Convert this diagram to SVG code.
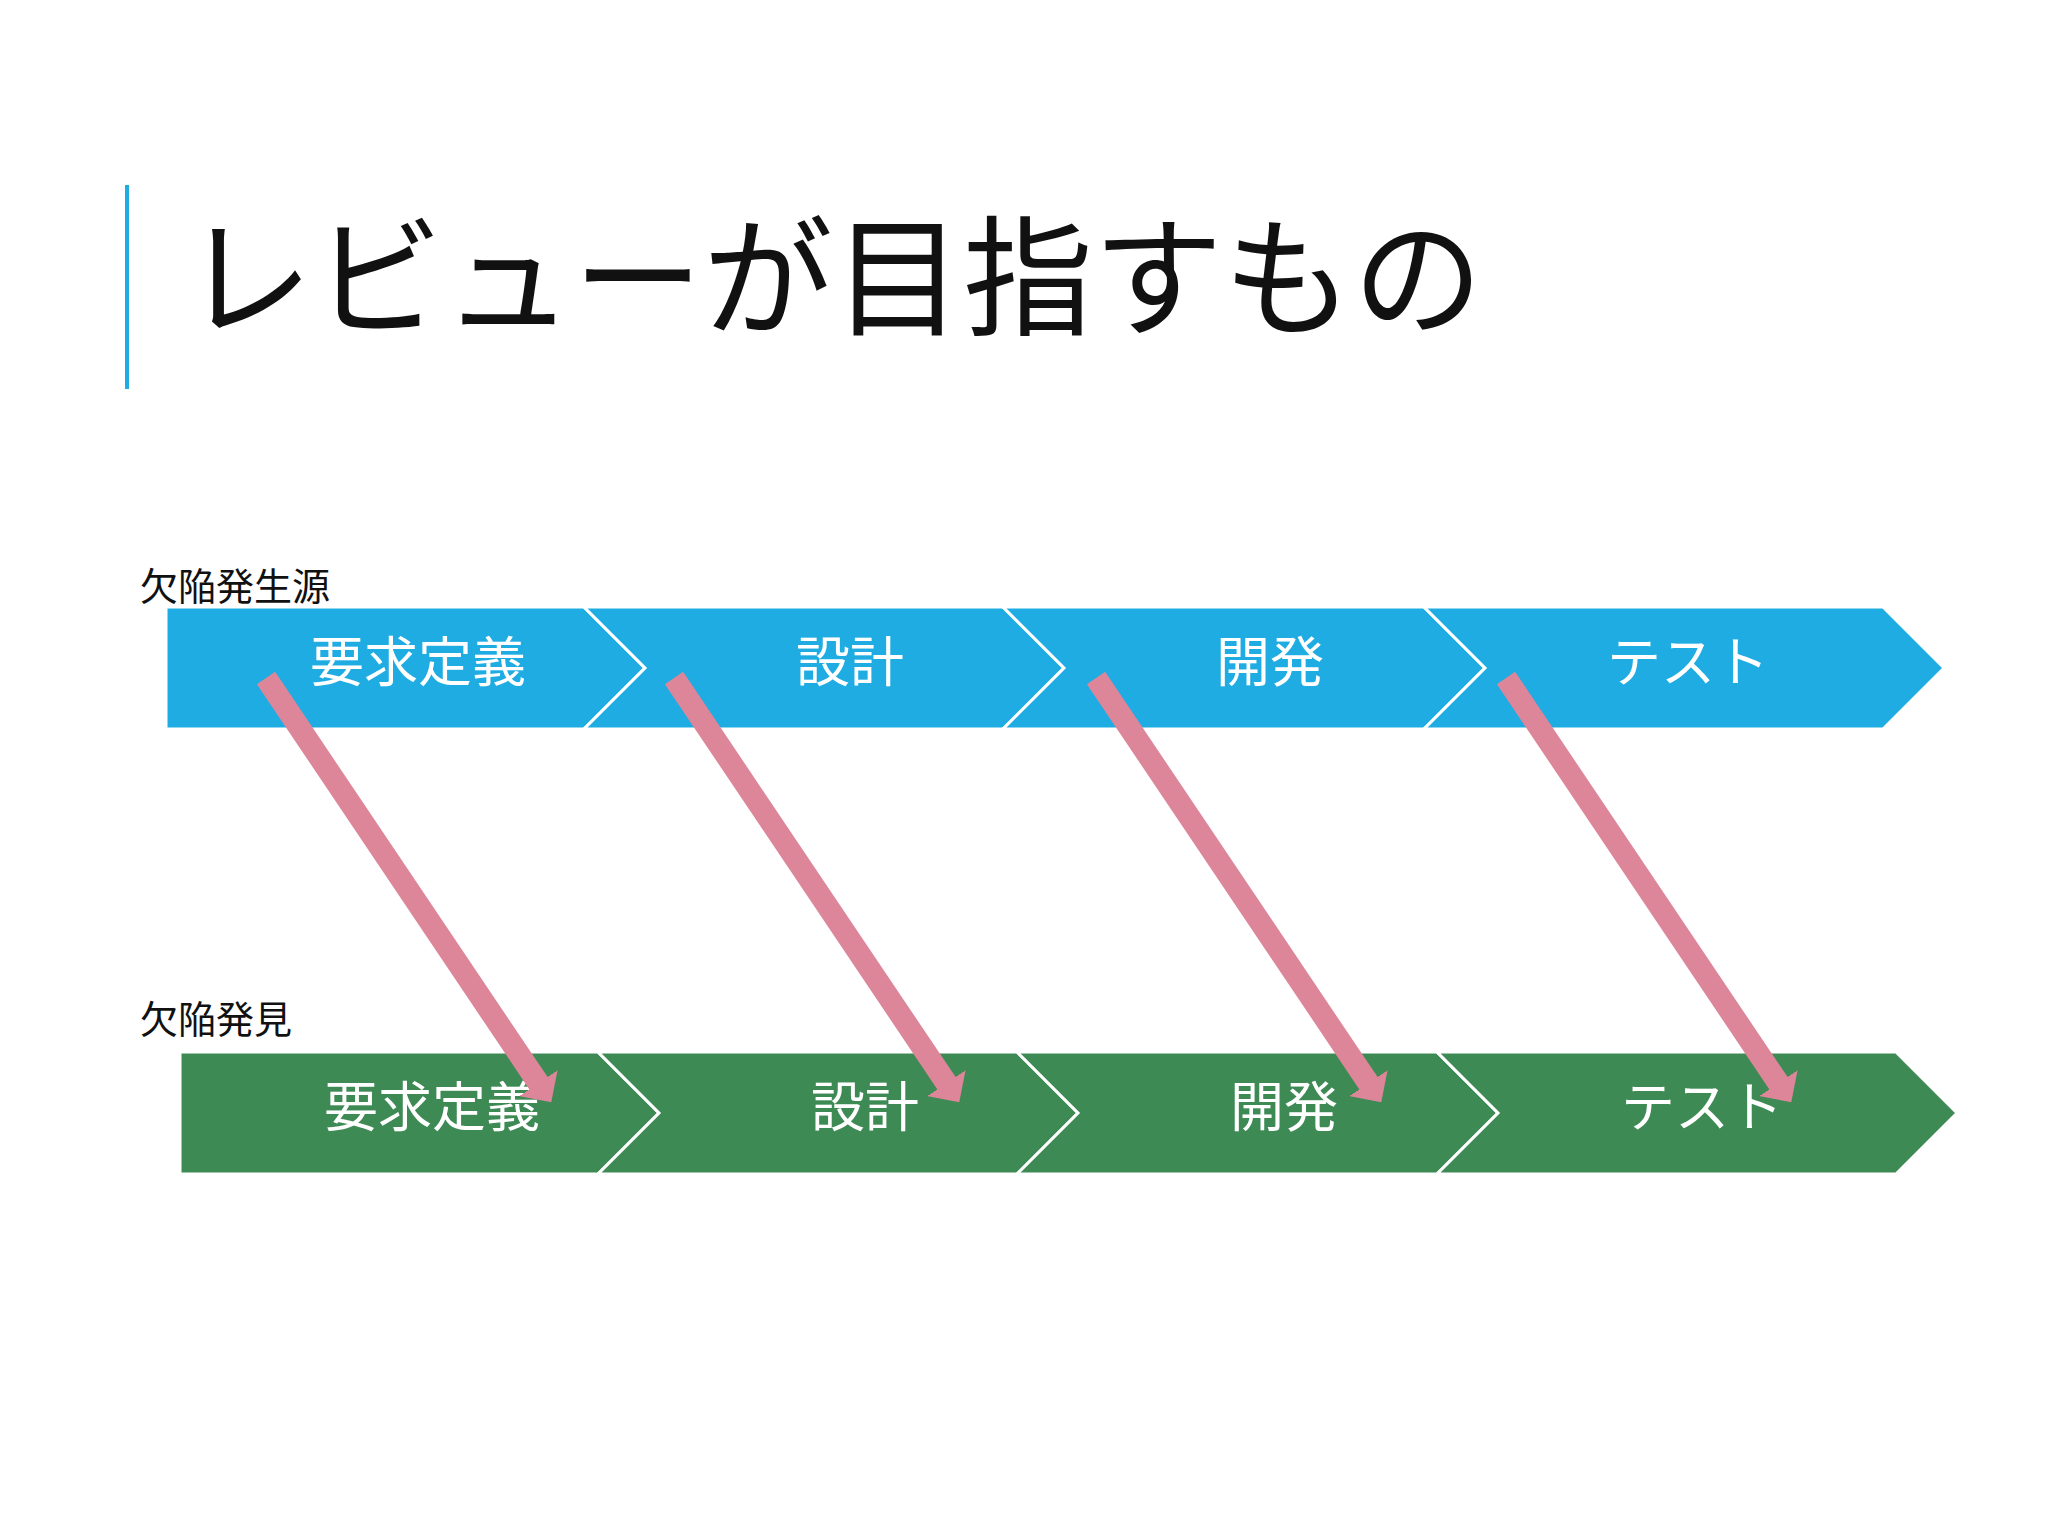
<svg xmlns="http://www.w3.org/2000/svg" width="2048" height="1536" viewBox="0 0 2048 1536">
  <style>
    .jp { font-family: "Noto Sans CJK JP", "Noto Sans CJK SC", sans-serif; }
    .title { font-size: 130px; fill: #111111; }
    .lbl { font-size: 38px; fill: #111111; }
    .step { font-size: 54px; fill: #ffffff; text-anchor: middle; }
    .blue { fill: #1EACE2; stroke: #ffffff; stroke-width: 3; }
    .green { fill: #3E8A54; stroke: #ffffff; stroke-width: 3; }
    .arrow { stroke: #DD8699; stroke-width: 22; fill: none; marker-end: url(#head); }
  </style>
  <defs>
    <marker id="head" markerUnits="userSpaceOnUse" markerWidth="24" markerHeight="46" viewBox="0 0 24 46" refX="1" refY="23" orient="auto">
      <path d="M0,0 L23,23 L0,46 Z" fill="#DD8699"/>
    </marker>
  </defs>
  <rect width="2048" height="1536" fill="#ffffff"/>

  <g id="title">
    <rect x="125" y="185" width="4" height="204" fill="#1EACE2"/>
    <text class="jp title" x="183" y="325">レビューが目指すもの</text>
  </g>

  <g id="label-source">
    <text class="jp lbl" x="140" y="600">欠陥発生源</text>
  </g>
  <g id="label-found">
    <text class="jp lbl" x="140" y="1033">欠陥発見</text>
  </g>

  <g id="src-req">
    <path class="blue" d="M166,607 L584,607 L645,668 L584,729 L166,729 Z"/>
    <text class="jp step" x="418" y="682">要求定義</text>
  </g>
  <g id="src-design">
    <path class="blue" d="M584,607 L1003,607 L1064,668 L1003,729 L584,729 L645,668 Z"/>
    <text class="jp step" x="850" y="682">設計</text>
  </g>
  <g id="src-dev">
    <path class="blue" d="M1003,607 L1424,607 L1485,668 L1424,729 L1003,729 L1064,668 Z"/>
    <text class="jp step" x="1270" y="682">開発</text>
  </g>
  <g id="src-test">
    <path class="blue" d="M1424,607 L1883,607 L1944,668 L1883,729 L1424,729 L1485,668 Z"/>
    <text class="jp step" x="1688" y="682">テスト</text>
  </g>

  <g id="found-req">
    <path class="green" d="M180,1052 L598,1052 L659,1113 L598,1174 L180,1174 Z"/>
    <text class="jp step" x="432" y="1127">要求定義</text>
  </g>
  <g id="found-design">
    <path class="green" d="M598,1052 L1017,1052 L1078,1113 L1017,1174 L598,1174 L659,1113 Z"/>
    <text class="jp step" x="865" y="1127">設計</text>
  </g>
  <g id="found-dev">
    <path class="green" d="M1017,1052 L1437,1052 L1498,1113 L1437,1174 L1017,1174 L1078,1113 Z"/>
    <text class="jp step" x="1284" y="1127">開発</text>
  </g>
  <g id="found-test">
    <path class="green" d="M1437,1052 L1896,1052 L1957,1113 L1896,1174 L1437,1174 L1498,1113 Z"/>
    <text class="jp step" x="1702" y="1127">テスト</text>
  </g>

  <g id="connectors">
    <line class="arrow" x1="266" y1="678" x2="539" y2="1084"/>
    <line class="arrow" x1="674" y1="678" x2="947" y2="1084"/>
    <line class="arrow" x1="1096" y1="678" x2="1369" y2="1084"/>
    <line class="arrow" x1="1506" y1="678" x2="1779" y2="1084"/>
  </g>
</svg>
